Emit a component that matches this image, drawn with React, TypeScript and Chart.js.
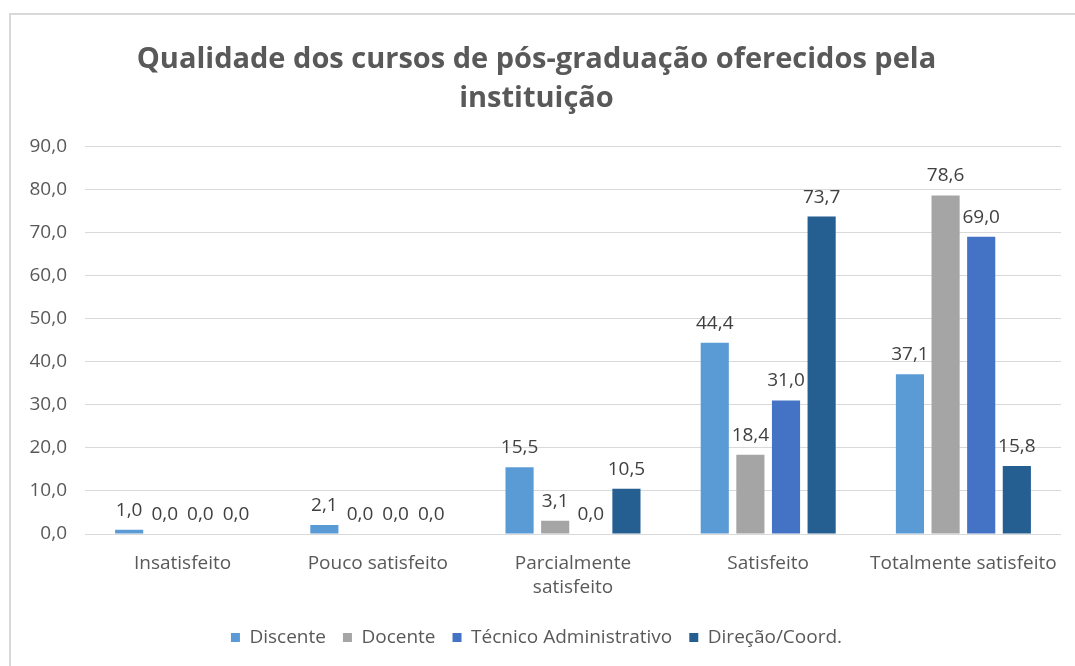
import React, { useEffect, useRef } from "react";
import { Chart, registerables } from "chart.js";

Chart.register(...registerables);

const categories: (string | string[])[] = [
  "Insatisfeito",
  "Pouco satisfeito",
  ["Parcialmente", "satisfeito"],
  "Satisfeito",
  "Totalmente satisfeito",
];
const discente = [1.0, 2.1, 15.5, 44.4, 37.1];
const docente = [0.0, 0.0, 3.1, 18.4, 78.6];
const tecnico = [0.0, 0.0, 0.0, 31.0, 69.0];
const direcao = [0.0, 0.0, 10.5, 73.7, 15.8];
const seriesNames = ["Discente", "Docente", "Técnico Administrativo", "Direção/Coord."];
const seriesColors = ["#5B9BD5", "#A5A5A5", "#4472C4", "#255E91"];
const titleLines = ["Qualidade dos cursos de pós-graduação oferecidos pela", "instituição"];

const FONT = "'Open Sans', sans-serif";
const fmt = (v: number) => v.toFixed(1).replace(".", ",");

const labelPlugin = {
  id: "valueLabels",
  afterDatasetsDraw(chart: any) {
    const ctx = chart.ctx;
    ctx.save();
    ctx.font = `19px ${FONT}`;
    ctx.fillStyle = "#404040";
    ctx.textAlign = "center";
    ctx.textBaseline = "alphabetic";
    chart.data.datasets.forEach((ds: any, i: number) => {
      const meta = chart.getDatasetMeta(i);
      meta.data.forEach((el: any, j: number) => {
        ctx.fillText(fmt(ds.data[j]), el.x, el.y - 14);
      });
    });
    ctx.restore();
  },
};

export default function App() {
  const ref = useRef<HTMLCanvasElement>(null);
  useEffect(() => {
    const data = [discente, docente, tecnico, direcao];
    const chart = new Chart(ref.current!, {
      type: "bar",
      data: {
        labels: categories,
        datasets: data.map((d, i) => ({
          label: seriesNames[i],
          data: d,
          backgroundColor: seriesColors[i],
          categoryPercentage: 0.73,
          barPercentage: 0.79,
        })),
      },
      options: {
        animation: false,
        responsive: false,
        layout: { padding: { left: 0, right: 13, top: 0, bottom: 10 } },
        plugins: {
          title: {
            display: true,
            text: titleLines,
            color: "#595959",
            font: { family: FONT, size: 29, weight: "bold", lineHeight: 1.35 },
            padding: { top: 25, bottom: 28 },
          },
          legend: {
            position: "bottom",
            labels: {
              boxWidth: 9,
              boxHeight: 9,
              padding: 17,
              color: "#595959",
              font: { family: FONT, size: 19 },
            },
          },
          tooltip: { enabled: false },
        },
        scales: {
          x: {
            grid: { display: false, drawTicks: false },
            border: { color: "#D9D9D9" },
            ticks: {
              color: "#595959",
              font: { family: FONT, size: 19, lineHeight: 1.3 },
              maxRotation: 0,
              autoSkip: false,
              padding: 17,
            },
            afterFit: (s: any) => {
              s.height = 77;
            },
          },
          y: {
            min: 0,
            max: 90,
            ticks: {
              stepSize: 10,
              color: "#595959",
              font: { family: FONT, size: 19 },
              padding: 18,
              callback: (v: any) => fmt(Number(v)),
            },
            grid: { color: "#D9D9D9", drawTicks: false },
            border: { display: false },
            afterFit: (s: any) => {
              s.width = 74;
            },
          },
        },
      },
      plugins: [labelPlugin],
    });
    return () => chart.destroy();
  }, []);
  return (
    <div style={{ position: "absolute", left: 0, top: 0, width: 1075, height: 666, background: "#fff", overflow: "hidden" }}>
      <div style={{ position: "absolute", left: 9, top: 13, width: 1120, height: 720, border: "2px solid #D9D9D9", boxSizing: "border-box" }} />
      <canvas ref={ref} width={1064} height={652} style={{ position: "absolute", left: 11, top: 15 }} />
    </div>
  );
}
